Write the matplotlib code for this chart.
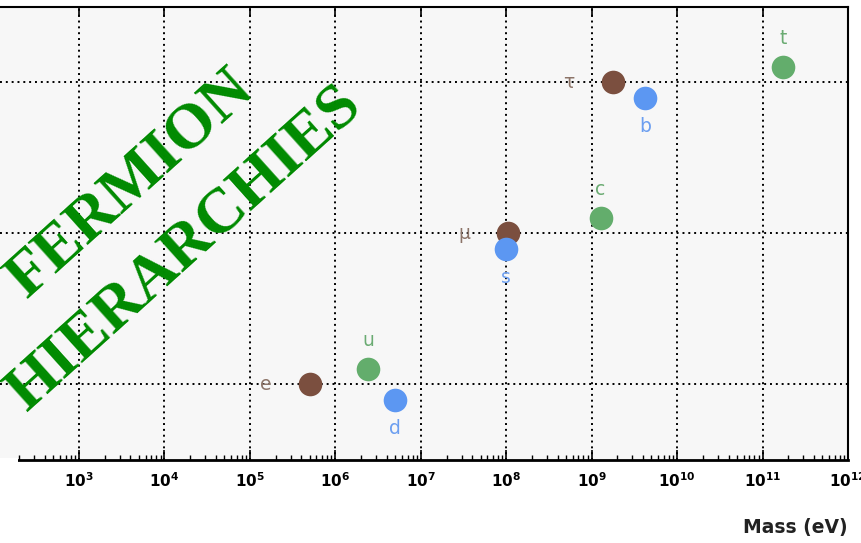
import matplotlib

matplotlib.use("Agg")
import matplotlib.pyplot as plt
from matplotlib.patches import Rectangle
from matplotlib.ticker import FixedLocator, LogLocator, NullFormatter

# fermion masses in eV, by generation
names = ["e", "u", "d", "μ", "c", "s", "τ", "t", "b"]
masses = [5.11e5, 2.4e6, 5.0e6, 1.06e8, 1.27e9, 1.0e8, 1.78e9, 1.75e11, 4.2e9]
generation = [1, 1, 1, 2, 2, 2, 3, 3, 3]
kind = ["lepton", "up", "down", "lepton", "up", "down", "lepton", "up", "down"]

shift = {"lepton": 0.0, "up": 0.1, "down": -0.1}
dot_color = {"lepton": "#7b4f3f", "up": "#63ad6c", "down": "#5c97f2"}
text_color = {"lepton": "#8c7468", "up": "#6aab72", "down": "#6b9ef0"}
# label offset (points) relative to marker
label_off = {"lepton": (-32, 0), "up": (0, 21), "down": (0, -21)}

fig = plt.figure(figsize=(8.61, 5.43), dpi=100)
ax = fig.add_axes([0.0, 0.1529, 848 / 861, 0.8343])
ax.set_facecolor("#f7f7f7")

ax.set_xscale("log")
ax.set_xlim(10 ** 2.075, 1e12)
ax.set_ylim(0.5, 3.5)

for n, m, g, k in zip(names, masses, generation, kind):
    y = g + shift[k]
    ax.plot(m, y, "o", ms=17, color=dot_color[k], mec="none", zorder=3)
    ax.annotate(n, (m, y), xytext=label_off[k], textcoords="offset points",
                ha="center", va="center", fontsize=13.5, color=text_color[k])

ax.xaxis.set_major_locator(FixedLocator([10.0 ** p for p in range(3, 13)]))
ax.xaxis.set_minor_locator(LogLocator(base=10, subs=range(2, 10), numticks=20))
ax.xaxis.set_minor_formatter(NullFormatter())
ax.set_xticklabels([r"$\mathbf{10^{%d}}$" % p for p in range(3, 13)])
ax.set_yticks([1, 2, 3])
ax.set_yticklabels([])
ax.tick_params(axis="y", length=0)
ax.tick_params(axis="x", which="major", direction="in", length=7, width=1.2,
               top=True, labelsize=11, pad=8)
ax.tick_params(axis="x", which="minor", direction="in", length=3.5, width=1)

ax.grid(True, which="major", color="black", linestyle=(0, (1, 2)), linewidth=1.4)
ax.set_axisbelow(True)

ax.spines["left"].set_visible(False)
ax.spines["bottom"].set_linewidth(2)
ax.spines["top"].set_linewidth(1.5)
ax.spines["right"].set_linewidth(1.5)

fig.text(848 / 861, 1 - 527 / 543, "Mass (eV)", ha="right", va="center",
         fontsize=13.5, fontweight="bold", color="#222222")

# white patch over bottom-left corner
fig.patches.append(Rectangle((0, 0), 18 / 861, 85 / 543, transform=fig.transFigure,
                             facecolor="white", edgecolor="none", zorder=5))

title_kw = dict(color="#008a00", fontsize=46, fontweight="bold",
                family="Liberation Serif", rotation=42, rotation_mode="anchor",
                ha="center", va="center", zorder=10)
fig.text(131 / 861, 1 - 184 / 543, "FERMION", **title_kw)
fig.text(185 / 861, 1 - 249 / 543, "HIERARCHIES", **title_kw)

fig.savefig("out.png", dpi=100)
